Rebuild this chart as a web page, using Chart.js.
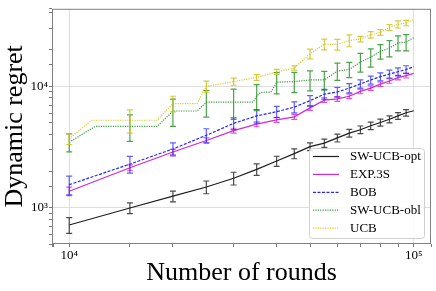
<!DOCTYPE html>
<html>
<head>
<meta charset="utf-8">
<script src="https://cdn.jsdelivr.net/npm/chart.js@4/dist/chart.umd.min.js"></script>
<style>
  html, body { margin: 0; padding: 0; background: #fff; }
</style>
</head>
<body>
<canvas id="regretChart" width="436" height="291"></canvas>
<script>
// Rounds where error bars are drawn, and the full line rounds
const barRounds = [10000, 15000, 20000, 25000, 30000, 35000, 40000, 45000, 50000,
                   55000, 60000, 65000, 70000, 75000, 80000, 85000, 90000, 95000];
const lineRounds = [...barRounds, 100000];

// SW-UCB-opt (black)
const optRegret = [725, 1000, 1250, 1486, 1754, 2075, 2427, 2793, 3190, 3410,
                   3760, 4110, 4390, 4730, 5030, 5350, 5700, 6050, 6280];
const optErr = [107, 103, 126, 178, 211, 224, 232, 257, 233, 270,
                280, 300, 320, 340, 330, 350, 360, 370];

// EXP.3S (magenta)
const expRegret = [1371, 2141, 2880, 3580, 4314, 4874, 5290, 5600, 6630, 7670,
                   7855, 8260, 9060, 9640, 10380, 11030, 11750, 12190, 12730];
const expErr = [110, 120, 150, 180, 200, 230, 250, 270, 300, 330,
                350, 370, 400, 420, 450, 470, 500, 520];

// BOB (blue)
const bobRegret = [1553, 2290, 3050, 3950, 4950, 5700, 6170, 6730, 7600, 8610,
                   8950, 9640, 10440, 11240, 11970, 12570, 13130, 13710, 14420];
const bobErr = [270, 360, 370, 520, 550, 730, 650, 700, 750, 800,
                820, 850, 800, 850, 900, 950, 1000, 1000];

// SW-UCB-obl (green)
const oblRounds = [10000, 11900, 15000, 18000, 20000, 23500, 25000, 30000, 34200, 35000,
                   36000, 38500, 40000, 45000, 50000, 55000, 60000, 65000, 70000, 75000,
                   80000, 85000, 90000, 95000, 100000];
const oblRegret = [3470, 4670, 4670, 4670, 6250, 6250, 7390, 7390, 7400, 8300,
                   8900, 8950, 10770, 10910, 11240, 11240, 13300, 13700, 15800, 17300,
                   19300, 20500, 22700, 23000, 25000];
const oblErr = [580, 1150, 1570, 1820, 2050, 2000, 2120, 2060, 2100, 1970,
                2150, 1960, 2780, 2950, 2650, 3120, 3200, 3500];

// UCB (yellow)
const ucbRounds = [10000, 11600, 15000, 18000, 20000, 23500, 25000, 30000, 35000, 40000,
                   45000, 50000, 55000, 60000, 65000, 70000, 75000, 80000, 85000, 90000,
                   95000, 100000];
const ucbRegret = [3690, 5250, 5250, 5250, 7200, 7200, 9950, 10900, 11800, 13100,
                   14100, 18450, 22100, 22000, 23700, 24400, 26400, 27600, 30300, 32200,
                   33000, 35300];
const ucbErr = [370, 1130, 1060, 1030, 725, 640, 620, 580, 1700, 2250,
                2250, 2640, 1270, 1600, 1480, 1700, 2180, 1680];

const serif = "'Liberation Serif', 'Times New Roman', serif";
const superDigits = { '3': '\u00b3', '4': '\u2074', '5': '\u2075' };

function toPoints(rounds, values) {
    return rounds.map((r, i) => ({ x: r, y: values[i] }));
}

function isPow10(v) {
    const l = Math.log10(v);
    return Math.abs(l - Math.round(l)) < 1e-9;
}

function powLabel(v) {
    if (!isPow10(v)) return '';
    return '10' + superDigits[String(Math.round(Math.log10(v)))];
}

// Error bars drawn from each dataset's values through the scales
const errorBars = {
    id: 'errorBars',
    afterDatasetsDraw(chart) {
        const { ctx, chartArea, scales: { x, y } } = chart;
        ctx.save();
        ctx.beginPath();
        ctx.rect(chartArea.left, chartArea.top, chartArea.width, chartArea.height);
        ctx.clip();
        chart.data.datasets.forEach(ds => {
            ctx.strokeStyle = ds.errorColor;
            ctx.lineWidth = 1.2;
            ctx.setLineDash([]);
            barRounds.forEach((r, i) => {
                const pt = ds.data.find(p => p.x === r);
                if (!pt) return;
                const px = x.getPixelForValue(r);
                const top = y.getPixelForValue(pt.y + ds.errors[i]);
                const bot = y.getPixelForValue(pt.y - ds.errors[i]);
                ctx.beginPath();
                ctx.moveTo(px, top); ctx.lineTo(px, bot);
                ctx.moveTo(px - 3, top); ctx.lineTo(px + 3, top);
                ctx.moveTo(px - 3, bot); ctx.lineTo(px + 3, bot);
                ctx.stroke();
            });
        });
        ctx.restore();
    }
};

// Frame round the plot and a legend box in the lower right corner
const frameAndLegend = {
    id: 'frameAndLegend',
    afterDraw(chart) {
        const { ctx, chartArea } = chart;
        ctx.save();
        ctx.strokeStyle = '#808080';
        ctx.lineWidth = 1;
        ctx.strokeRect(chartArea.left + 0.5, chartArea.top + 0.5,
                       chartArea.width - 1, chartArea.height - 1);

        const bx = 309, by = 148, bw = 115, bh = 90;
        ctx.beginPath();
        ctx.roundRect(bx + 0.5, by + 0.5, bw, bh, 3);
        ctx.fillStyle = 'rgba(255,255,255,0.85)';
        ctx.fill();
        ctx.strokeStyle = '#d0d0d0';
        ctx.stroke();

        ctx.font = '13px ' + serif;
        ctx.textBaseline = 'middle';
        ctx.textAlign = 'left';
        chart.data.datasets.forEach((ds, i) => {
            const ry = by + 8.5 + i * 17.9;
            ctx.strokeStyle = ds.borderColor;
            ctx.lineWidth = ds.borderWidth;
            ctx.setLineDash(ds.borderDash || []);
            ctx.beginPath();
            ctx.moveTo(bx + 4, ry);
            ctx.lineTo(bx + 30, ry);
            ctx.stroke();
            ctx.fillStyle = '#000';
            ctx.fillText(ds.label, bx + 41, ry);
        });
        ctx.restore();
    }
};

const gridColor = c => (c.tick && isPow10(c.tick.value)) ? '#d6d6d6' : 'rgba(0,0,0,0)';

new Chart(document.getElementById('regretChart'), {
    type: 'line',
    data: {
        datasets: [
            {
                label: 'SW-UCB-opt', data: toPoints(lineRounds, optRegret), errors: optErr,
                borderColor: '#1e1e1e', errorColor: 'rgba(30,30,30,0.8)',
                borderWidth: 1.2, order: 5
            },
            {
                label: 'EXP.3S', data: toPoints(lineRounds, expRegret), errors: expErr,
                borderColor: '#d02ad0', errorColor: 'rgba(200,30,200,0.75)',
                borderWidth: 1.2, order: 4
            },
            {
                label: 'BOB', data: toPoints(lineRounds, bobRegret), errors: bobErr,
                borderColor: '#2424ff', errorColor: 'rgba(40,40,255,0.75)',
                borderWidth: 1.2, borderDash: [3, 1.5], order: 3
            },
            {
                label: 'SW-UCB-obl', data: toPoints(oblRounds, oblRegret), errors: oblErr,
                borderColor: '#3c9c3c', errorColor: 'rgba(30,140,30,0.8)',
                borderWidth: 1.2, borderDash: [1.2, 1.2], order: 2
            },
            {
                label: 'UCB', data: toPoints(ucbRounds, ucbRegret), errors: ucbErr,
                borderColor: '#d8cc28', errorColor: 'rgba(205,195,30,0.85)',
                borderWidth: 1.2, borderDash: [1.2, 1.2], order: 1
            }
        ]
    },
    options: {
        responsive: false,
        animation: false,
        devicePixelRatio: 1,
        layout: { padding: { top: 4, right: 5, left: 0, bottom: 0 } },
        elements: { point: { radius: 0 }, line: { tension: 0, fill: false } },
        plugins: { legend: { display: false }, tooltip: { enabled: false } },
        scales: {
            x: {
                type: 'logarithmic',
                min: 8913,
                max: 112202,
                afterFit: s => { s.height = 47; },
                border: { display: false },
                grid: { color: gridColor, tickColor: '#555', tickLength: 3, lineWidth: 0.8 },
                ticks: {
                    autoSkip: false, maxRotation: 0, padding: 1, color: '#000',
                    font: { family: serif, size: 13 },
                    callback: v => powLabel(v)
                },
                title: {
                    display: true, text: 'Number of rounds', color: '#000',
                    font: { family: serif, size: 26 }, padding: { top: 0, bottom: 2 }
                }
            },
            y: {
                type: 'logarithmic',
                min: 506,
                max: 43150,
                afterFit: s => { s.width = 52; },
                border: { display: false },
                grid: { color: gridColor, tickColor: '#555', tickLength: 3, lineWidth: 0.8 },
                ticks: {
                    autoSkip: false, padding: 1, color: '#000',
                    font: { family: serif, size: 13 },
                    callback: v => powLabel(v)
                },
                title: {
                    display: true, text: 'Dynamic regret', color: '#000',
                    font: { family: serif, size: 26 }, padding: { top: 0, bottom: 0 }
                }
            }
        }
    },
    plugins: [errorBars, frameAndLegend]
});
</script>
</body>
</html>
